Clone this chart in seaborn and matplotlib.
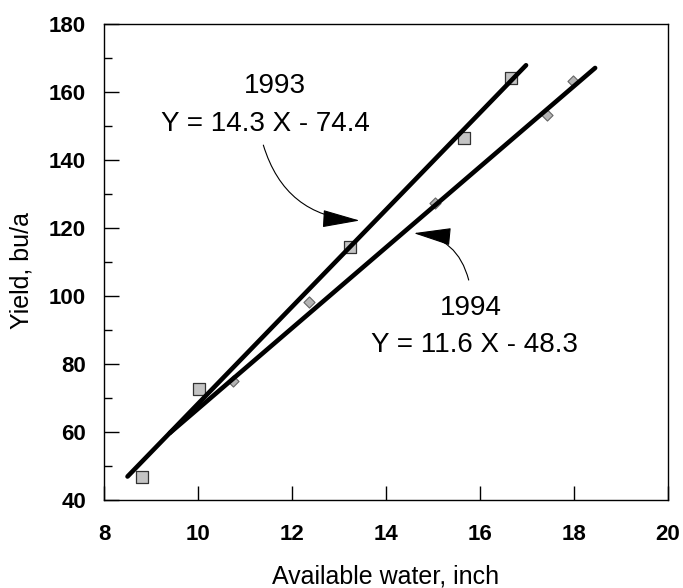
import matplotlib
matplotlib.use("Agg")
import matplotlib.pyplot as plt
from matplotlib.ticker import MultipleLocator
import seaborn as sns
import pandas as pd

sns.set_theme(style="white")
plt.rcParams['font.family'] = ['Liberation Sans', 'DejaVu Sans']
plt.rcParams['text.color'] = 'black'
plt.rcParams['axes.labelcolor'] = 'black'
plt.rcParams['xtick.color'] = 'black'
plt.rcParams['ytick.color'] = 'black'

# measured points (available water, inch / yield, bu/a)
water_1993 = [8.80, 10.03, 13.24, 15.65, 16.65]
yield_1993 = [46.9, 72.7, 114.5, 146.5, 164.0]
water_1994 = [10.74, 12.36, 15.04, 17.43, 17.97]
yield_1994 = [74.9, 98.3, 127.3, 153.3, 163.2]

# fitted lines, end points
line_x_1993 = [8.50, 16.98]
line_y_1993 = [46.9, 167.9]
line_x_1994 = [9.40, 18.45]
line_y_1994 = [59.7, 167.1]

x_ticks = [8, 10, 12, 14, 16, 18, 20]
y_ticks = [40, 60, 80, 100, 120, 140, 160, 180]

pts93 = pd.DataFrame({"water": water_1993, "yield": yield_1993})
pts94 = pd.DataFrame({"water": water_1994, "yield": yield_1994})
fit93 = pd.DataFrame({"water": line_x_1993, "yield": line_y_1993})
fit94 = pd.DataFrame({"water": line_x_1994, "yield": line_y_1994})

fig = plt.figure(figsize=(6.83, 5.88), dpi=100)
ax = fig.add_axes([0.1523, 0.1497, 0.978 - 0.1523, 0.959 - 0.1497])

# markers under the lines
sns.scatterplot(data=pts93, x="water", y="yield", marker="s", s=75,
                color="#c4c4c4", edgecolor="#333333", linewidth=0.9, ax=ax, zorder=2)
sns.scatterplot(data=pts94, x="water", y="yield", marker="D", s=32,
                color="#b4b4b4", edgecolor="#666666", linewidth=0.8, ax=ax, zorder=2)

sns.lineplot(data=fit93, x="water", y="yield", color="black", linewidth=3.3,
             sort=False, ax=ax, zorder=3)
sns.lineplot(data=fit94, x="water", y="yield", color="black", linewidth=3.3,
             sort=False, ax=ax, zorder=3)

ax.set_xlim(8, 20)
ax.set_ylim(40, 180)
ax.set_xticks(x_ticks)
ax.set_yticks(y_ticks)
ax.yaxis.set_minor_locator(MultipleLocator(10))
ax.tick_params(axis="x", which="major", direction="in", length=10, width=1,
               color="black", pad=17, labelsize=16, bottom=True)
ax.tick_params(axis="y", which="major", direction="in", length=11, width=1,
               color="black", pad=13, labelsize=16, left=True)
ax.tick_params(axis="y", which="minor", direction="in", length=6, width=1,
               color="black", left=True)
for lab in ax.get_xticklabels() + ax.get_yticklabels():
    lab.set_fontweight("bold")

for sp in ax.spines.values():
    sp.set_visible(True)
    sp.set_color("black")
    sp.set_linewidth(1.0)

ax.set_xlabel("Available water, inch", fontsize=18, labelpad=14)
ax.set_ylabel("Yield, bu/a", fontsize=18)
ax.yaxis.set_label_coords(-0.125, 0.483)

# equation labels with curved arrows
ax.text(11.64, 161.8, "1993", fontsize=20, ha="center", va="center")
ax.text(11.43, 150.6, "Y = 14.3 X - 74.4", fontsize=20, ha="center", va="center")
ax.text(15.80, 96.6, "1994", fontsize=20, ha="center", va="center")
ax.text(15.88, 85.7, "Y = 11.6 X - 48.3", fontsize=20, ha="center", va="center")

arrow = dict(arrowstyle="-|>,head_length=1.2,head_width=0.28", color="black",
             lw=0.8, mutation_scale=20, shrinkA=0, shrinkB=0,
             connectionstyle="arc3,rad=0.35")
ax.annotate("", xy=(13.44, 122.2), xytext=(11.39, 144.4), arrowprops=arrow)
ax.annotate("", xy=(14.59, 118.5), xytext=(15.76, 104.7), arrowprops=arrow)

plt.savefig("out.png", dpi=100)
plt.close()
